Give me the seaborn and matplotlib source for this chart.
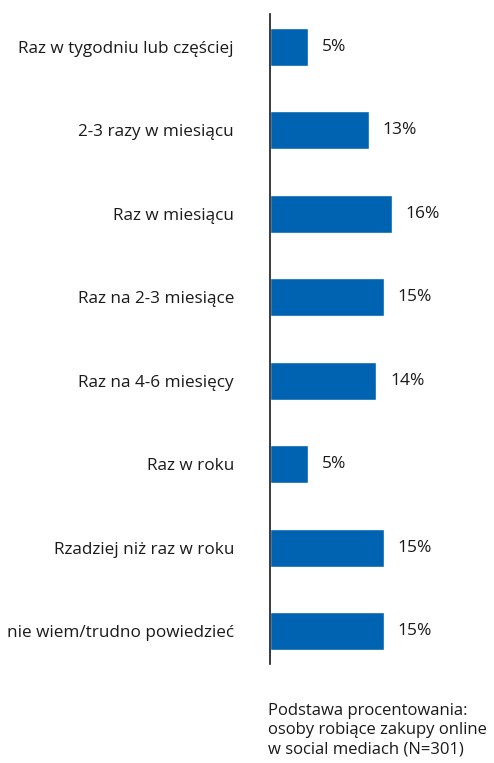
import matplotlib
matplotlib.use("Agg")
import matplotlib.pyplot as plt
import seaborn as sns
import pandas as pd

categories = [
    "Raz w tygodniu lub częściej",
    "2-3 razy w miesiącu",
    "Raz w miesiącu",
    "Raz na 2-3 miesiące",
    "Raz na 4-6 miesięcy",
    "Raz w roku",
    "Rzadziej niż raz w roku",
    "nie wiem/trudno powiedzieć",
]
values = [5, 13, 16, 15, 14, 5, 15, 15]
value_labels = ["5%", "13%", "16%", "15%", "14%", "5%", "15%", "15%"]
footnote = "Podstawa procentowania:\nosoby robiące zakupy online\nw social mediach (N=301)"

sns.set_theme(style="white")
plt.rcParams["font.family"] = ["Open Sans", "DejaVu Sans"]

df = pd.DataFrame({"kategoria": categories, "procent": values})

W, H = 494, 763
fig = plt.figure(figsize=(W / 100, H / 100), dpi=100)
ax = fig.add_axes([270 / W, 1 - 664 / H, (W - 270) / W, 650 / H])

sns.barplot(data=df, x="procent", y="kategoria", color="#0063B1",
            saturation=1, width=0.455, ax=ax, orient="h")

ax.set_xlim(0, 224 / 7.6)
ax.set_ylim(7.396, -0.396)
ax.set_xlabel("")
ax.set_ylabel("")
ax.set_xticks([])
for s in ["top", "right", "bottom"]:
    ax.spines[s].set_visible(False)
ax.spines["left"].set_color("#1a1a1a")
ax.spines["left"].set_linewidth(1.2)
ax.tick_params(axis="y", length=0, pad=26, labelsize=12.3, labelcolor="#1a1a1a")

for i, (v, lab) in enumerate(zip(values, value_labels)):
    ax.annotate(lab, (v, i), xytext=(10, 0), textcoords="offset points",
                va="center", ha="left", fontsize=12.5, color="#1a1a1a")

fig.text(268 / W, 1 - 703 / H, footnote, ha="left", va="top",
         fontsize=12, color="#1a1a1a", linespacing=1.27)

fig.savefig("out.png", dpi=100, facecolor="white")
